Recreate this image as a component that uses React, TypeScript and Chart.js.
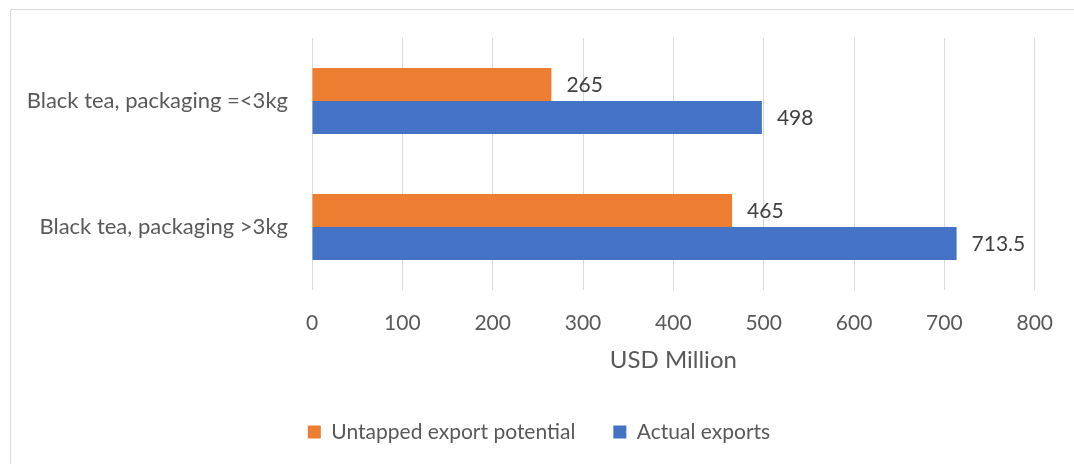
import React, { useEffect, useRef } from "react";
import { Chart, registerables } from "chart.js";

Chart.register(...registerables);

const categories = ["Black tea, packaging =<3kg", "Black tea, packaging >3kg"];
const untappedPotential = [265, 465];
const actualExports = [498, 713.5];
const seriesNames = ["Untapped export potential", "Actual exports"];
const xTicks = [0, 100, 200, 300, 400, 500, 600, 700, 800];
const axisTitle = "USD Million";

const FONT = "Lato";
const TEXT = "#595959";
const GRID = "#d9d9d9";

const framePlugin = {
  id: "frame",
  beforeDraw(chart: any) {
    // centre the legend on the whole frame, like the reference
    if (chart.legend) {
      chart.legend.left = 40;
      chart.legend.right = 1038;
    }
    const ctx = chart.ctx;
    ctx.save();
    ctx.fillStyle = "#ffffff";
    ctx.fillRect(0, 0, chart.width, chart.height);
    ctx.strokeStyle = GRID;
    ctx.lineWidth = 1;
    ctx.beginPath();
    ctx.moveTo(10.5, chart.height);
    ctx.lineTo(10.5, 9.5);
    ctx.lineTo(chart.width, 9.5);
    ctx.stroke();
    ctx.restore();
  },
};

const valueLabelPlugin = {
  id: "valueLabels",
  afterDatasetsDraw(chart: any) {
    const ctx = chart.ctx;
    ctx.save();
    ctx.font = `21px ${FONT}`;
    ctx.fillStyle = "#404040";
    ctx.textAlign = "left";
    ctx.textBaseline = "middle";
    chart.data.datasets.forEach((ds: any, di: number) => {
      const meta = chart.getDatasetMeta(di);
      meta.data.forEach((el: any, i: number) => {
        const v = ds.data[i];
        ctx.fillText(String(v), el.x + 15, el.y + 1);
      });
    });
    ctx.restore();
  },
};

export default function App() {
  const ref = useRef<HTMLCanvasElement | null>(null);
  useEffect(() => {
    if (!ref.current) return;
    const chart = new Chart(ref.current, {
      type: "bar",
      data: {
        labels: categories,
        datasets: [
          {
            label: seriesNames[0],
            data: untappedPotential,
            backgroundColor: "#ED7D31",
            categoryPercentage: 0.524,
            barPercentage: 1,
          },
          {
            label: seriesNames[1],
            data: actualExports,
            backgroundColor: "#4472C4",
            categoryPercentage: 0.524,
            barPercentage: 1,
          },
        ],
      },
      options: {
        indexAxis: "y",
        animation: false,
        responsive: true,
        maintainAspectRatio: false,
        layout: { padding: { top: 38, left: 0, right: 36, bottom: 11.5 } },
        plugins: {
          title: { display: false },
          tooltip: { enabled: false },
          legend: {
            position: "bottom",
            labels: {
              boxWidth: 13,
              boxHeight: 13,
              padding: 38,
              color: TEXT,
              font: { family: FONT, size: 21 },
            },
          },
        },
        scales: {
          x: {
            type: "linear",
            min: 0,
            max: 800,
            afterBuildTicks(scale: any) {
              scale.ticks = xTicks.map((v) => ({ value: v }));
            },
            afterFit(scale: any) {
              scale.height = 93.5;
            },
            grid: { color: GRID, drawTicks: false, lineWidth: 1 },
            border: { display: false },
            ticks: {
              padding: 21,
              color: TEXT,
              font: { family: FONT, size: 21 },
            },
            title: {
              display: true,
              text: axisTitle,
              color: TEXT,
              font: { family: FONT, size: 24 },
              padding: { top: 0, bottom: 9.1 },
            },
          },
          y: {
            afterFit(scale: any) {
              scale.width = 312;
            },
            grid: { display: false, drawTicks: false },
            border: { display: false },
            ticks: {
              padding: 24,
              color: TEXT,
              font: { family: FONT, size: 22 },
            },
          },
        },
      },
      plugins: [framePlugin, valueLabelPlugin],
    });
    return () => chart.destroy();
  }, []);
  return (
    <div style={{ position: "absolute", left: 0, top: 0, width: 1074, height: 464 }}>
      <canvas ref={ref} />
    </div>
  );
}
